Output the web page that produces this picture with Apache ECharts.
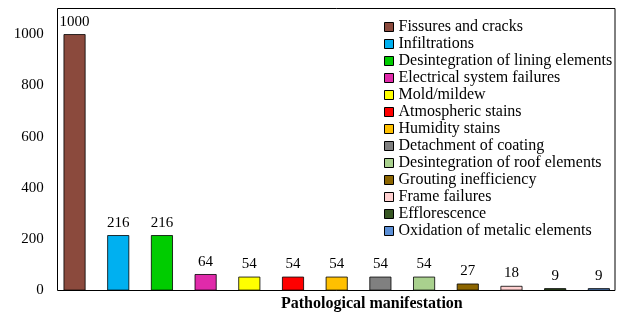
<!DOCTYPE html>
<html>
<head>
<meta charset="utf-8">
<script src="https://cdn.jsdelivr.net/npm/echarts@6/dist/echarts.min.js"></script>
<style>
	html, body { margin: 0; padding: 0; background: #fff; }
	#chart { width: 627px; height: 316px; }
</style>
</head>
<body>
<div id="chart"></div>
<script>
	var categories = [
		'Fissures and cracks',
		'Infiltrations',
		'Desintegration of lining elements',
		'Electrical system failures',
		'Mold/mildew',
		'Atmospheric stains',
		'Humidity stains',
		'Detachment of coating',
		'Desintegration of roof elements',
		'Grouting inefficiency',
		'Frame failures',
		'Efflorescence',
		'Oxidation of metalic elements'
	];
	var scores = [1000, 216, 216, 64, 54, 54, 54, 54, 54, 27, 18, 9, 9];
	var colors = [
		'#8B4A3D', '#00B0F0', '#00CC00', '#E02AAA', '#FFFF00', '#FF0000', '#FFC000',
		'#808080', '#A9D18E', '#8C6500', '#FFD0D0', '#375623', '#5B8FD6'
	];
	var yTicks = [0, 200, 400, 600, 800, 1000];

	var font = '"Liberation Serif", "Times New Roman", serif';

	// one series per category so each gets its own legend entry
	var series = categories.map(function(name, i) {
		var data = categories.map(function(c, j) {
			return j === i ? scores[i] : null;
		});
		return {
			name: name,
			type: 'bar',
			stack: 'all',
			barWidth: 22,
			xAxisIndex: 0,
			yAxisIndex: 0,
			data: data,
			itemStyle: {
				color: colors[i],
				borderColor: '#000',
				borderWidth: 0.8
			},
			label: {
				show: true,
				position: 'top',
				distance: 5,
				color: '#000',
				fontFamily: font,
				fontSize: 15
			}
		};
	});

	var option = {
		animation: false,
		backgroundColor: '#fff',
		textStyle: { fontFamily: font },
		grid: [{
				left: 52.7,
				right: 6.3,
				top: 8.5,
				bottom: 25.5,
				show: false,
				outerBoundsMode: 'none'
			},
			{
				// plot frame
				left: 57.5,
				right: 12,
				top: 8.5,
				bottom: 25.5,
				show: true,
				borderColor: '#000',
				borderWidth: 1,
				backgroundColor: 'transparent',
				outerBoundsMode: 'none'
			}
		],
		legend: {
			orient: 'vertical',
			left: 384,
			top: 18.5,
			padding: 0,
			itemWidth: 9,
			itemHeight: 9,
			itemGap: 0,
			icon: 'rect',
			itemStyle: {
				borderColor: '#000',
				borderWidth: 1
			},
			textStyle: {
				fontFamily: font,
				fontSize: 16,
				lineHeight: 17,
				color: '#000'
			},
			data: categories
		},
		xAxis: [{
				type: 'category',
				gridIndex: 0,
				data: categories,
				axisLine: { show: false },
				axisTick: { show: false },
				axisLabel: { show: false },
				splitLine: { show: false }
			},
			{
				type: 'value',
				gridIndex: 1,
				show: false
			}
		],
		yAxis: [{
				type: 'value',
				gridIndex: 0,
				min: 0,
				max: 1100,
				interval: 200,
				name: 'Score',
				nameLocation: 'middle',
				nameGap: 38,
				nameTextStyle: {
					fontFamily: font,
					fontSize: 16,
					fontWeight: 'bold',
					color: '#000'
				},
				axisLine: { show: false },
				axisTick: { show: false },
				splitLine: { show: false },
				axisLabel: {
					margin: 9,
					color: '#000',
					fontFamily: font,
					fontSize: 15,
					showMaxLabel: false,
					formatter: function(v) {
						return yTicks.indexOf(v) >= 0 ? String(v) : '';
					}
				}
			},
			{
				type: 'value',
				gridIndex: 1,
				show: false
			}
		],
		graphic: [{
			type: 'text',
			left: 281,
			top: 296,
			style: {
				text: 'Pathological manifestation',
				font: 'bold 16px ' + font,
				fill: '#000'
			}
		}],
		series: series
	};

	var chart = echarts.init(document.getElementById('chart'), null, { renderer: 'canvas' });
	chart.setOption(option);
</script>
</body>
</html>
